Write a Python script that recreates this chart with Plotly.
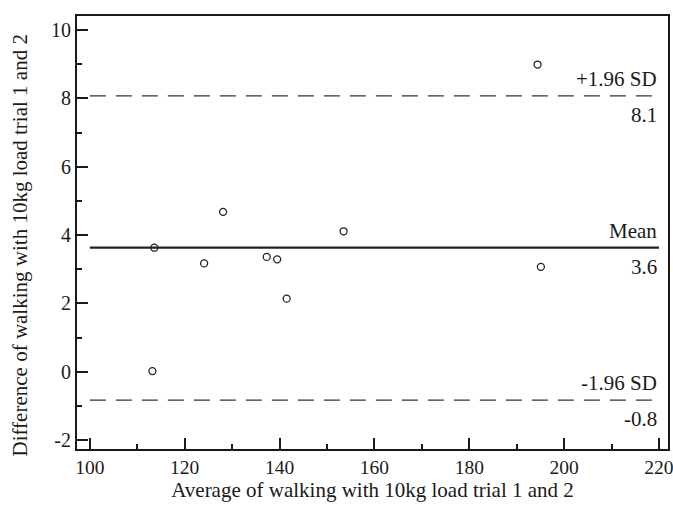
import plotly.graph_objects as go

# Data
avg = [113.6, 113.2, 124.1, 128.1, 137.3, 139.5, 141.5, 153.5, 194.4, 195.1]
diff = [3.63, 0.02, 3.17, 4.68, 3.36, 3.29, 2.14, 4.11, 8.99, 3.07]
mean_diff = 3.63
upper_loa = 8.07
lower_loa = -0.83
line_x = [100, 220]
x_ticks = [100, 120, 140, 160, 180, 200, 220]
y_ticks = [-2, 0, 2, 4, 6, 8, 10]
x_title = "Average of walking with 10kg load trial 1 and 2"
y_title = "Difference of walking with 10kg load trial 1 and 2"

FONT = "Liberation Serif, Times New Roman, serif"
INK = "#1a1a1a"

fig = go.Figure()

fig.add_trace(go.Scatter(
    x=line_x, y=[upper_loa, upper_loa], mode="lines",
    line=dict(color="#333", width=1.3, dash="16px,10px"), showlegend=False, hoverinfo="skip"))
fig.add_trace(go.Scatter(
    x=line_x, y=[lower_loa, lower_loa], mode="lines",
    line=dict(color="#333", width=1.3, dash="16px,10px"), showlegend=False, hoverinfo="skip"))
fig.add_trace(go.Scatter(
    x=line_x, y=[mean_diff, mean_diff], mode="lines",
    line=dict(color="#222", width=2.2), showlegend=False, hoverinfo="skip"))

fig.add_trace(go.Scatter(
    x=avg, y=diff, mode="markers",
    marker=dict(symbol="circle-open", size=7, color="#222", line=dict(width=1.3)),
    showlegend=False))

ann_font = dict(family=FONT, size=21, color=INK)
for val, top in [(upper_loa, "+1.96 SD"), (mean_diff, "Mean"), (lower_loa, "-1.96 SD")]:
    fig.add_annotation(x=line_x[1], y=val, text=top, showarrow=False,
                       xanchor="right", yanchor="bottom", yshift=3, font=ann_font)
    fig.add_annotation(x=line_x[1], y=val, text=f"{val:.1f}", showarrow=False,
                       xanchor="right", yanchor="top", yshift=-5, font=ann_font)

# Y-axis title (placed as annotation to match its offset in the reference)
fig.add_annotation(xref="paper", yref="paper", x=0, y=0.47, xshift=-57,
                   text=y_title, textangle=-90, showarrow=False,
                   xanchor="center", yanchor="middle",
                   font=dict(family=FONT, size=21, color=INK))

axis_common = dict(
    showgrid=False, zeroline=False, showline=True, linecolor=INK, linewidth=2,
    mirror=True, ticks="inside", ticklen=11, tickwidth=2, tickcolor=INK,
    automargin=False, ticklabeloverflow="allow",
)

fig.update_xaxes(
    range=[97.3, 221.9], tickvals=x_ticks, ticktext=[str(v) for v in x_ticks],
    tickfont=dict(family=FONT, size=19.5, color=INK),
    minor=dict(dtick=10, tick0=100, ticks="inside", ticklen=5, tickwidth=1.5, tickcolor=INK),
    title=dict(text=x_title, font=dict(family=FONT, size=21, color=INK), standoff=4),
    **axis_common)
fig.update_yaxes(
    range=[-2.26, 10.41], tickvals=y_ticks, ticktext=[str(v) for v in y_ticks],
    tickfont=dict(family=FONT, size=20, color=INK),
    minor=dict(dtick=1, tick0=0, ticks="inside", ticklen=5, tickwidth=1.5, tickcolor=INK),
    **axis_common)

fig.update_layout(
    width=673, height=515,
    margin=dict(l=77, r=5, t=16, b=66),
    plot_bgcolor="white", paper_bgcolor="white",
    font=dict(family=FONT, color=INK),
)

fig.write_html("out.html", config={"displayModeBar": False},
               post_script="document.body.style.margin='0';")
